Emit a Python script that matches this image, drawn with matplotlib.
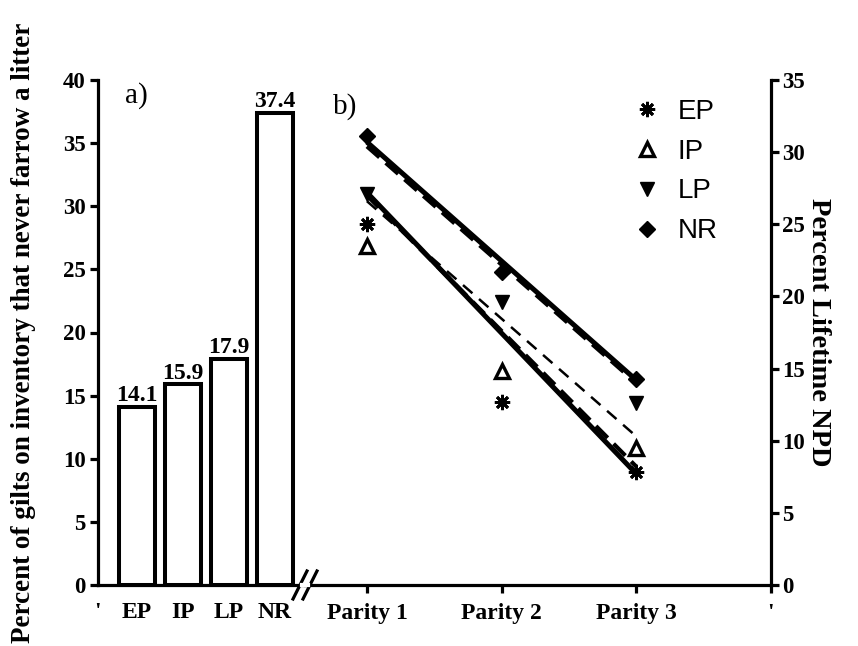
import numpy as np
import matplotlib
matplotlib.use('Agg')
import matplotlib.pyplot as plt
from matplotlib.lines import Line2D

plt.rcParams['font.family'] = ['Liberation Serif', 'DejaVu Serif']

# a) gilts that never farrow a litter
groups = ['EP', 'IP', 'LP', 'NR']
never_farrow = [14.1, 15.9, 17.9, 37.4]

# b) lifetime NPD by parity
parity_labels = ['Parity 1', 'Parity 2', 'Parity 3']
parities = [1, 2, 3]
npd_ep = [25.0, 12.7, 7.8]
npd_ip = [23.5, 14.8, 9.5]
npd_lp = [27.1, 19.6, 12.6]
npd_nr = [31.1, 21.7, 14.3]

# trend lines (value at parity 1 and parity 3)
fit_x = [1, 3]
fit_low_solid = [27.2, 7.7]
fit_low_dash = [27.0, 8.2]
fit_thin_dash = [26.6, 10.3]
fit_up_solid = [30.7, 14.2]
fit_up_dash = [30.4, 14.0]

W, H = 858, 646
fig = plt.figure(figsize=(W / 100, H / 100), dpi=100)
bot = 1 - 585 / H
hgt = (585 - 80) / H
ax_a = fig.add_axes([98 / W, bot, (305 - 98) / W, hgt])
ax_b = fig.add_axes([305 / W, bot, (771 - 305) / W, hgt])

lw_ax = 2.3

# ---- panel a
xpos = np.arange(1, len(groups) + 1)
ax_a.bar(xpos, never_farrow, width=0.79, color='white', edgecolor='black',
         linewidth=2.9, zorder=3)
for x, v in zip(xpos, never_farrow):
    ax_a.text(x, v + 0.45, f'{v}', ha='center', va='baseline',
              fontweight='bold', fontsize=17)
x0 = 1 - 39 / 46
ax_a.set_xlim(x0, 1 + 168 / 46)
ax_a.set_ylim(0, 40)
ax_a.set_yticks(range(0, 41, 5))
ax_a.set_xticks([x0] + list(xpos))
ax_a.set_xticklabels(["'"] + groups)
ax_a.tick_params(axis='x', length=0, pad=12, labelsize=17)
ax_a.tick_params(axis='y', length=6, width=lw_ax, labelsize=16.5, pad=3)
for lab in ax_a.get_xticklabels() + ax_a.get_yticklabels():
    lab.set_fontweight('bold')
for s in ['top', 'right']:
    ax_a.spines[s].set_visible(False)
for s in ['left', 'bottom']:
    ax_a.spines[s].set_linewidth(lw_ax)
ax_a.set_ylabel('Percent of gilts on inventory that never farrow a litter',
                fontsize=19.5, fontweight='bold', labelpad=19)
ax_a.text(0.13, 0.995, 'a)', transform=ax_a.transAxes, fontsize=21,
          va='top', ha='left')

# ---- panel b
ax_b.plot(fit_x, fit_thin_dash, color='black', lw=1.8, ls=(0, (5, 3.5)))
ax_b.plot(fit_x, fit_low_dash, color='black', lw=3.0, ls=(0, (4, 2)))
ax_b.plot(fit_x, fit_low_solid, color='black', lw=3.6, solid_capstyle='butt')
ax_b.plot(fit_x, fit_up_dash, color='black', lw=3.0, ls=(0, (4, 2)))
ax_b.plot(fit_x, fit_up_solid, color='black', lw=3.6, solid_capstyle='butt')

ax_b.plot(parities, npd_ep, ls='none', marker=(8, 2, 0), ms=11, mew=2.0,
          color='black', label='EP', zorder=4)
ax_b.plot(parities, npd_ip, ls='none', marker='^', ms=10, mew=2.4,
          mfc='white', mec='black', label='IP', zorder=4)
ax_b.plot(parities, npd_lp, ls='none', marker='v', ms=10, color='black',
          label='LP', zorder=4)
ax_b.plot(parities, npd_nr, ls='none', marker='D', ms=8.5, color='black',
          label='NR', zorder=4)

ax_b.set_xlim(0.54, 4)
ax_b.set_ylim(0, 35)
ax_b.set_xticks(parities + [4])
ax_b.set_xticklabels(parity_labels + ["'"])
ax_b.yaxis.tick_right()
ax_b.yaxis.set_label_position('right')
ax_b.set_yticks(range(0, 36, 5))
ax_b.tick_params(axis='x', length=6, width=lw_ax, labelsize=17, pad=7)
ax_b.tick_params(axis='y', length=6, width=lw_ax, labelsize=16.5, pad=2)
for lab in ax_b.get_xticklabels() + ax_b.get_yticklabels():
    lab.set_fontweight('bold')
for s in ['top', 'left']:
    ax_b.spines[s].set_visible(False)
for s in ['right', 'bottom']:
    ax_b.spines[s].set_linewidth(lw_ax)
ax_b.set_ylabel('Percent Lifetime NPD', fontsize=20.5, fontweight='bold',
                rotation=270, labelpad=19)
ax_b.text(0.06, 0.975, 'b)', transform=ax_b.transAxes, fontsize=21,
          va='top', ha='left')

leg = ax_b.legend(loc='upper left', bbox_to_anchor=(0.68, 0.985),
                  frameon=False, handlelength=1.0, handletextpad=0.6,
                  labelspacing=0.5, borderaxespad=0,
                  prop={'family': 'Liberation Sans', 'size': 20})

# axis break mark
for dx in (-5, 5):
    fig.add_artist(Line2D([(305 + dx - 7) / W, (305 + dx + 7) / W],
                          [1 - 599 / H, 1 - 571 / H],
                          color='black', lw=2.3))
fig.add_artist(Line2D([302 / W, 308 / W], [1 - 585 / H, 1 - 585 / H],
                      color='white', lw=3))

fig.savefig('out.png', dpi=100)
